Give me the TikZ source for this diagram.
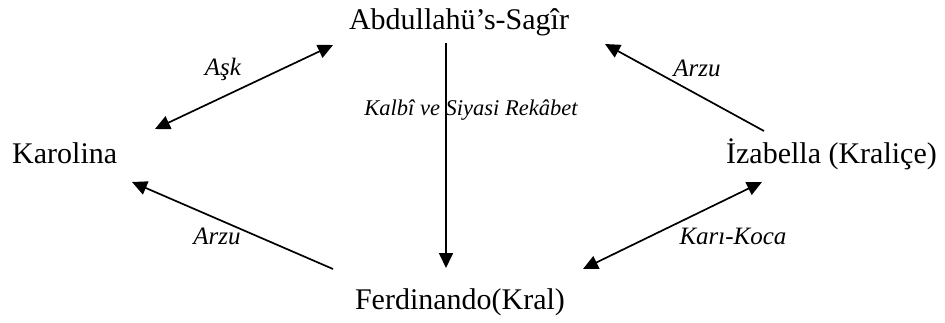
\documentclass[tikz,border=0pt]{standalone}
\usepackage{fontspec}
\setmainfont{Liberation Serif}
\usetikzlibrary{arrows.meta}
\begin{document}
\begin{tikzpicture}[x=1pt,y=-1pt,
  person/.style={inner sep=0pt,font=\fontsize{30}{34}\selectfont},
  relation/.style={inner sep=0pt,font=\fontsize{25}{28}\selectfont\itshape},
  smallrelation/.style={inner sep=0pt,font=\fontsize{22.5}{26}\selectfont\itshape},
  link/.style={line width=1.7pt,-{Triangle[length=15pt,width=14pt]}},
  duallink/.style={line width=1.7pt,{Triangle[length=15pt,width=14pt]}-{Triangle[length=15pt,width=14pt]}}]
\useasboundingbox (0,0) rectangle (945,322);

% people
\node[person,anchor=base] (abd) at (459,29) {Abdullahü’s-Sagîr};
\node[person,anchor=base west] (kar) at (12,163) {Karolina};
\node[person,anchor=base east] (iza) at (937,163) {İzabella (Kraliçe)};
\node[person,anchor=base] (fer) at (460,309) {Ferdinando(Kral)};

% connector end points
\coordinate (askA) at (155,129);
\coordinate (askB) at (333,45);
\coordinate (izaA) at (764,131);
\coordinate (izaB) at (605,44);
\coordinate (ferA) at (333,269);
\coordinate (ferB) at (132,182);
\coordinate (kkA) at (583,269);
\coordinate (kkB) at (762,182);
\coordinate (vtA) at (446,43);
\coordinate (vtB) at (446,268);

% relations
\draw[duallink] (askA) -- (askB);
\draw[link] (izaA) -- (izaB);
\draw[link] (ferA) -- (ferB);
\draw[duallink] (kkA) -- (kkB);
\draw[link] (vtA) -- (vtB);

% relation labels
\node[relation,anchor=base] (lask) at (223,75) {Aşk};
\node[relation,anchor=base] (larzu1) at (697,76) {Arzu};
\node[relation,anchor=base] (larzu2) at (217,244) {Arzu};
\node[relation,anchor=base] (lkk) at (733,244) {Karı-Koca};
\node[smallrelation,anchor=base] (lkr) at (471,115) {Kalbî ve Siyasi Rekâbet};
\end{tikzpicture}
\end{document}
